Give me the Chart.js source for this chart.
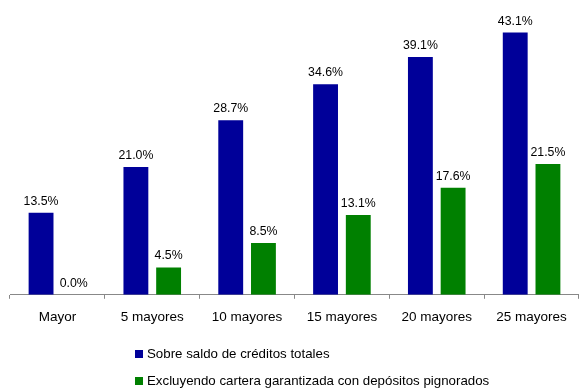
<!DOCTYPE html>
<html>
<head>
<meta charset="utf-8">
<script src="https://cdn.jsdelivr.net/npm/chart.js@4"></script>
<style>
  html, body { margin: 0; padding: 0; background: #fff; }
  #wrap { width: 579px; height: 391px; }
</style>
</head>
<body>
<div id="wrap"><canvas id="chart" width="579" height="391"></canvas></div>
<script>
const categories = ['Mayor', '5 mayores', '10 mayores', '15 mayores', '20 mayores', '25 mayores'];
const seriesNames = ['Sobre saldo de créditos totales', 'Excluyendo cartera garantizada con depósitos pignorados'];
const totales = [13.5, 21.0, 28.7, 34.6, 39.1, 43.1];
const excluyendo = [0.0, 4.5, 8.5, 13.1, 17.6, 21.5];
const colors = ['#000099', '#008000'];

const FONT = 'Liberation Sans, Arial, sans-serif';

// value labels above each bar
const valueLabels = {
  id: 'valueLabels',
  afterDatasetsDraw(chart) {
    const ctx = chart.ctx;
    ctx.save();
    ctx.font = '12.3px ' + FONT;
    ctx.fillStyle = '#000';
    ctx.textAlign = 'center';
    ctx.textBaseline = 'alphabetic';
    chart.data.datasets.forEach((ds, i) => {
      chart.getDatasetMeta(i).data.forEach((bar, j) => {
        ctx.fillText(ds.data[j].toFixed(1) + '%', bar.x, bar.y - 8);
      });
    });
    ctx.restore();
  }
};

// stacked legend under the axis
const stackedLegend = {
  id: 'stackedLegend',
  afterDraw(chart) {
    const ctx = chart.ctx;
    ctx.save();
    ctx.font = '13.3px ' + FONT;
    ctx.textBaseline = 'middle';
    chart.data.datasets.forEach((ds, i) => {
      const y = 354 + i * 27;
      ctx.fillStyle = ds.backgroundColor;
      ctx.fillRect(135, y - 4, 8, 8);
      ctx.fillStyle = '#000';
      ctx.fillText(ds.label, 147, y);
    });
    ctx.restore();
  }
};

new Chart(document.getElementById('chart'), {
  type: 'bar',
  data: {
    labels: categories,
    datasets: [
      { label: seriesNames[0], data: totales, backgroundColor: colors[0] },
      { label: seriesNames[1], data: excluyendo, backgroundColor: colors[1] }
    ]
  },
  options: {
    responsive: false,
    animation: false,
    layout: { padding: { top: 21, left: 10, right: 0, bottom: 56 } },
    datasets: { bar: { categoryPercentage: 0.69, barPercentage: 0.76 } },
    plugins: { legend: { display: false }, tooltip: { enabled: false } },
    scales: {
      x: {
        grid: { display: true, drawOnChartArea: false, drawTicks: true, tickLength: 4, color: '#888', offset: true },
        border: { display: true, color: '#888', width: 1 },
        ticks: { color: '#000', font: { family: FONT, size: 13.5 }, padding: 10, maxRotation: 0 }
      },
      y: { display: false, min: 0, max: 45 }
    }
  },
  plugins: [valueLabels, stackedLegend]
});
</script>
</body>
</html>
